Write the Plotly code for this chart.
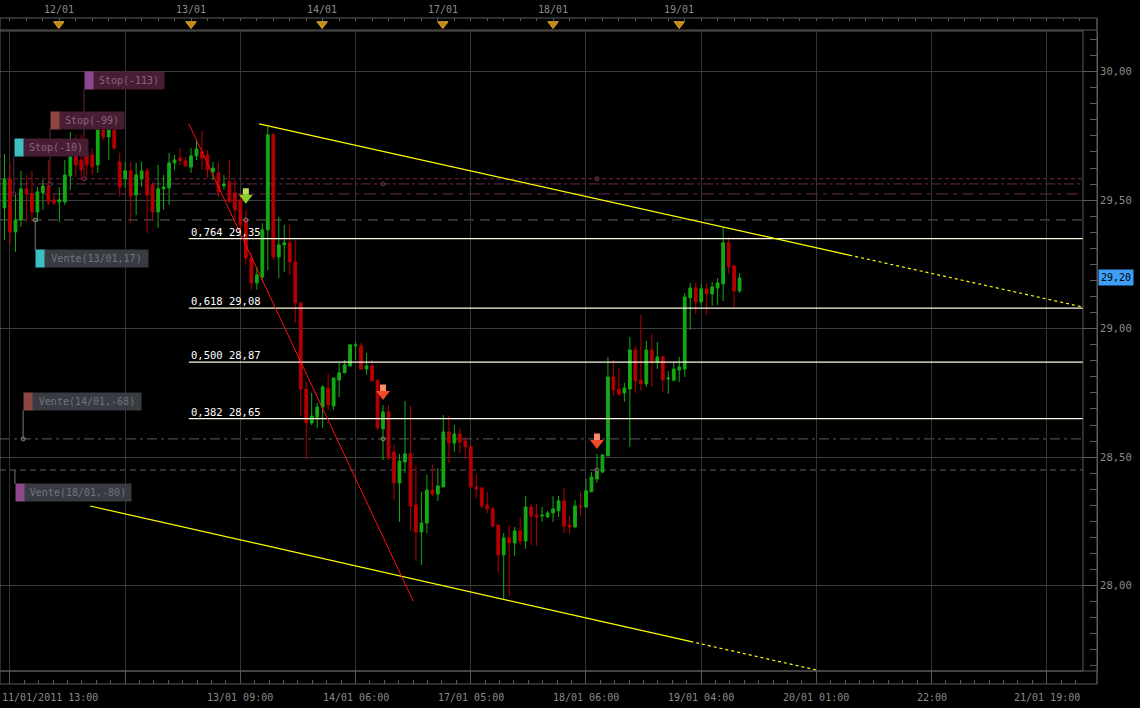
import plotly.graph_objects as go

# hourly bars, index 0 = 11/01/2011 13:00, one grid step = 21 bars
bar_idx = list(range(-1, 134))
opens = [29.470, 29.583, 29.376, 29.423, 29.544, 29.524, 29.454, 29.528, 29.555, 29.501,
         29.493, 29.493, 29.594, 29.695, 29.656, 29.676, 29.676, 29.637, 29.773, 29.746,
         29.773, 29.649, 29.583, 29.614, 29.520, 29.583, 29.614, 29.559, 29.454, 29.544,
         29.548, 29.645, 29.664, 29.653, 29.629, 29.672, 29.688, 29.676, 29.610, 29.606,
         29.555, 29.571, 29.528, 29.501, 29.423, 29.275, 29.178, 29.201, 29.384, 29.754,
         29.279, 29.326, 29.334, 29.260, 29.100, 28.765, 28.633, 28.656, 28.695, 28.769,
         28.699, 28.800, 28.828, 28.855, 28.933, 28.933, 28.843, 28.855, 28.800, 28.610,
         28.676, 28.520, 28.400, 28.481, 28.513, 28.314, 28.209, 28.244, 28.372, 28.357,
         28.384, 28.598, 28.555, 28.590, 28.563, 28.540, 28.384, 28.380, 28.314, 28.299,
         28.236, 28.120, 28.186, 28.166, 28.213, 28.174, 28.306, 28.275, 28.271, 28.267,
         28.283, 28.291, 28.330, 28.236, 28.228, 28.310, 28.306, 28.365, 28.415, 28.442,
         28.505, 28.812, 28.765, 28.750, 28.765, 28.917, 28.800, 28.785, 28.917, 28.870,
         28.890, 28.804, 28.800, 28.839, 28.843, 29.120, 29.158, 29.104, 29.155, 29.135,
         29.158, 29.174, 29.334, 29.244, 29.147]
highs = [29.680, 29.645, 29.528, 29.614, 29.598, 29.614, 29.551, 29.579, 29.656, 29.520,
         29.551, 29.656, 29.766, 29.754, 29.754, 29.684, 29.703, 29.773, 29.773, 29.773,
         29.773, 29.684, 29.649, 29.649, 29.645, 29.649, 29.625, 29.571, 29.637, 29.598,
         29.684, 29.676, 29.703, 29.668, 29.703, 29.734, 29.769, 29.695, 29.649, 29.645,
         29.598, 29.656, 29.579, 29.528, 29.462, 29.295, 29.240, 29.411, 29.785, 29.762,
         29.435, 29.404, 29.404, 29.345, 29.104, 28.793, 28.750, 28.711, 28.781, 28.824,
         28.808, 28.867, 28.878, 28.941, 28.948, 28.944, 28.905, 28.878, 28.800, 28.703,
         28.703, 28.548, 28.513, 28.719, 28.699, 28.466, 28.365, 28.431, 28.470, 28.458,
         28.664, 28.660, 28.625, 28.614, 28.579, 28.548, 28.435, 28.384, 28.365, 28.306,
         28.236, 28.205, 28.236, 28.228, 28.267, 28.349, 28.318, 28.318, 28.306, 28.291,
         28.349, 28.349, 28.380, 28.271, 28.334, 28.365, 28.415, 28.442, 28.513, 28.509,
         28.890, 28.878, 28.847, 28.789, 28.968, 28.933, 29.053, 28.952, 28.979, 28.948,
         28.894, 28.835, 28.870, 28.890, 29.139, 29.178, 29.178, 29.174, 29.174, 29.182,
         29.197, 29.396, 29.357, 29.248, 29.217]
lows = [29.345, 29.326, 29.299, 29.396, 29.415, 29.415, 29.415, 29.462, 29.481, 29.481,
        29.415, 29.481, 29.540, 29.590, 29.579, 29.590, 29.598, 29.606, 29.734, 29.656,
        29.695, 29.513, 29.548, 29.411, 29.442, 29.551, 29.372, 29.423, 29.392, 29.462,
        29.481, 29.618, 29.637, 29.629, 29.606, 29.656, 29.618, 29.586, 29.579, 29.513,
        29.540, 29.493, 29.423, 29.376, 29.248, 29.151, 29.151, 29.182, 29.228, 29.267,
        29.197, 29.221, 29.209, 29.022, 28.660, 28.493, 28.625, 28.614, 28.614, 28.684,
        28.684, 28.734, 28.828, 28.851, 28.878, 28.839, 28.820, 28.793, 28.606, 28.489,
        28.489, 28.330, 28.248, 28.439, 28.213, 28.096, 28.081, 28.205, 28.349, 28.330,
        28.384, 28.478, 28.520, 28.516, 28.493, 28.380, 28.341, 28.302, 28.283, 28.228,
        28.050, 27.944, 27.960, 28.116, 28.158, 28.143, 28.158, 28.155, 28.248, 28.267,
        28.248, 28.267, 28.205, 28.201, 28.225, 28.271, 28.302, 28.365, 28.400, 28.439,
        28.505, 28.738, 28.738, 28.715, 28.540, 28.750, 28.758, 28.773, 28.773, 28.843,
        28.754, 28.746, 28.793, 28.793, 28.812, 28.995, 29.057, 29.088, 29.053, 29.088,
        29.092, 29.108, 29.213, 29.085, 29.139]
closes = [29.583, 29.376, 29.423, 29.544, 29.524, 29.454, 29.532, 29.555, 29.493, 29.489,
          29.501, 29.598, 29.668, 29.637, 29.618, 29.637, 29.629, 29.773, 29.746, 29.773,
          29.703, 29.551, 29.614, 29.516, 29.598, 29.614, 29.520, 29.454, 29.544, 29.551,
          29.645, 29.656, 29.653, 29.633, 29.672, 29.699, 29.664, 29.618, 29.625, 29.532,
          29.563, 29.493, 29.462, 29.404, 29.275, 29.178, 29.209, 29.384, 29.754, 29.279,
          29.326, 29.334, 29.260, 29.100, 28.765, 28.633, 28.660, 28.695, 28.773, 28.703,
          28.808, 28.828, 28.859, 28.937, 28.937, 28.843, 28.855, 28.797, 28.614, 28.676,
          28.497, 28.400, 28.485, 28.513, 28.310, 28.209, 28.244, 28.372, 28.357, 28.388,
          28.598, 28.555, 28.590, 28.559, 28.540, 28.384, 28.376, 28.310, 28.299, 28.232,
          28.120, 28.186, 28.166, 28.213, 28.174, 28.306, 28.271, 28.267, 28.275, 28.283,
          28.299, 28.330, 28.232, 28.228, 28.310, 28.306, 28.369, 28.423, 28.442, 28.509,
          28.812, 28.762, 28.746, 28.769, 28.917, 28.797, 28.785, 28.917, 28.870, 28.890,
          28.800, 28.808, 28.843, 28.851, 29.123, 29.158, 29.104, 29.155, 29.135, 29.162,
          29.178, 29.334, 29.240, 29.147, 29.197]

bottom_idx = [0, 42, 63, 84, 105, 126, 147, 168, 189]
bottom_text = ["11/01/2011 13:00", "13/01 09:00", "14/01 06:00", "17/01 05:00", "18/01 06:00",
               "19/01 04:00", "20/01 01:00", "22:00", "21/01 19:00"]
day_idx = [8.9, 33.0, 56.9, 78.9, 99.0, 122.0]
day_text = ["12/01", "13/01", "14/01", "17/01", "18/01", "19/01"]

fib_ratio = ["0,764", "0,618", "0,500", "0,382"]
fib_level = [29.35, 29.08, 28.87, 28.65]
fib_start = 32.6

upper_idx = [45.4, 153.0, 195.6]
upper_px = [29.797, 29.286, 29.084]
lower_idx = [14.6, 124.0, 147.0]
lower_px = [28.310, 27.783, 27.672]
red_idx = [32.6, 73.5]
red_px = [29.797, 27.940]

order_text = ["Stop(-113)", "Stop(-99)", "Stop(-10)", "Vente(13/01,17)", "Vente(14/01,-68)", "Vente(18/01,-80)"]
order_level = [29.583, 29.563, 29.524, 29.423, 28.571, 28.450]
order_idx = [13.5, 7.3, 0.7, 4.6, 2.4, 0.9]
order_label_px = [29.966, 29.810, 29.703, 29.271, 28.715, 28.363]

# signal arrows: bar index and price at the arrow head centre
signal_idx = [43, 68, 107]
signal_px = [29.509, 28.746, 28.555]
entry_idx = [43, 68, 68, 107, 107]
entry_px = [29.423, 28.571, 29.563, 28.450, 29.583]

last_price = 29.20

X_RANGE = [-1.82, 195.6]
Y_RANGE = [27.668, 30.158]

# styling
FONT = "DejaVu Sans Mono"
GREEN = "#14aa14"
RED = "#b40000"
FRAME = "#5a5a5a"
XD = [0, 1083 / 1097]
Y3D = [0, 13 / 666]
YD = [13 / 666, 653 / 666]
Y2D = [654 / 666, 1]
order_sq = ["#8e468e", "#8c4641", "#3cbec3", "#3cbec3", "#8c4641", "#8e468e"]
order_box_w = [70, 64, 64, 103, 108, 106]
line_color = ["#6e2a50", "#6e2a50", "#6e2a50", "#5e5e5e", "#5e5e5e", "#5e5e5e"]
line_dash = ["4px,3px", "10px,3px,3px,3px", "12px,5px,4px,5px", "10px,6px", "10px,4px,3px,4px", "6px,4px"]
signal_color = ["#8fd02a", "#f04a28", "#f04a28"]
signal_shaft = ["#b4e05a", "#ff8a6a", "#ff8a6a"]

fig = go.Figure()

# wicks
up_x, up_y, dn_x, dn_y = [], [], [], []
for i, o, h, l, c in zip(bar_idx, opens, highs, lows, closes):
    if c >= o:
        up_x += [i, i, None]
        up_y += [l, h, None]
    else:
        dn_x += [i, i, None]
        dn_y += [l, h, None]
fig.add_trace(go.Scatter(x=up_x, y=up_y, mode="lines", line=dict(color=GREEN, width=1), hoverinfo="skip"))
fig.add_trace(go.Scatter(x=dn_x, y=dn_y, mode="lines", line=dict(color=RED, width=1), hoverinfo="skip"))

# bodies
body_col = [GREEN if c >= o else RED for o, c in zip(opens, closes)]
fig.add_trace(go.Bar(
    x=bar_idx,
    y=[abs(c - o) for o, c in zip(opens, closes)],
    base=[min(o, c) for o, c in zip(opens, closes)],
    width=0.5,
    marker=dict(color=body_col, line=dict(color=body_col, width=1)),
    hoverinfo="skip",
))

# order lines
for lvl, col, dsh in zip(order_level, line_color, line_dash):
    fig.add_shape(type="line", xref="x domain", yref="y", x0=0, x1=1, y0=lvl, y1=lvl,
                  line=dict(color=col, width=1, dash=dsh), layer="below")

# fibonacci levels
for r, lvl in zip(fib_ratio, fib_level):
    fig.add_trace(go.Scatter(x=[fib_start, X_RANGE[1]], y=[lvl, lvl], mode="lines",
                             line=dict(color="#fffbe6", width=1.2), hoverinfo="skip"))
    fig.add_annotation(x=fib_start, y=lvl, xref="x", yref="y", xanchor="left", yanchor="bottom",
                       text=r + " " + f"{lvl:.2f}".replace(".", ","), showarrow=False, yshift=-1,
                       font=dict(family=FONT, size=10.5, color="white"))

# trend lines
fig.add_trace(go.Scatter(x=upper_idx[:2], y=upper_px[:2], mode="lines", line=dict(color="#ffff00", width=1.2)))
fig.add_trace(go.Scatter(x=upper_idx[1:], y=upper_px[1:], mode="lines", line=dict(color="#ffff00", width=1.2, dash="3px,3px")))
fig.add_trace(go.Scatter(x=lower_idx[:2], y=lower_px[:2], mode="lines", line=dict(color="#ffff00", width=1.2)))
fig.add_trace(go.Scatter(x=lower_idx[1:], y=lower_px[1:], mode="lines", line=dict(color="#ffff00", width=1.2, dash="3px,3px")))
fig.add_trace(go.Scatter(x=red_idx, y=red_px, mode="lines", line=dict(color="#ff1010", width=1)))

# order labels
for txt, lvl, ix, lp, sq, w in zip(order_text, order_level, order_idx, order_label_px, order_sq, order_box_w):
    stop = txt.startswith("Stop")
    edge = lp + 0.033 if lvl > lp else lp - 0.033
    fig.add_shape(type="line", xref="x", yref="y", x0=ix, x1=ix, y0=lvl, y1=edge,
                  line=dict(color="#5a2a40" if stop else "#777777", width=1))
    fig.add_annotation(x=ix, y=lp, xref="x", yref="y", xanchor="left", yanchor="middle", text=" ",
                       showarrow=False, width=9, height=17, bgcolor=sq, borderpad=0)
    fig.add_annotation(x=ix, y=lp, xref="x", yref="y", xanchor="left", yanchor="middle", xshift=9,
                       text=txt, showarrow=False, width=w, height=17, align="center", borderpad=0,
                       bgcolor="#461d33" if stop else "#393b43",
                       font=dict(family=FONT, size=10, color="#8c647d" if stop else "#70747c"))

# small order marks
fig.add_trace(go.Scatter(x=order_idx[:5] + entry_idx, y=order_level[:5] + entry_px, mode="markers",
                         marker=dict(symbol="circle-open", size=4,
                                     color=["#7a3050"] * 3 + ["#888888"] * 2 + ["#888888", "#888888", "#7a3050", "#888888", "#7a3050"],
                                     line=dict(width=1))))

# signal arrows: shaft drawn as an annotation line, head as a triangle marker
for ix, p, col in zip(signal_idx, signal_px, signal_shaft):
    fig.add_annotation(x=ix, y=p, xref="x", yref="y", text="", showarrow=True, arrowhead=0,
                       arrowwidth=6, arrowcolor=col, ax=0, ay=-11, standoff=3)
fig.add_trace(go.Scatter(x=signal_idx, y=signal_px, mode="markers",
                         marker=dict(symbol="triangle-down", size=12, color=signal_color, line=dict(width=0))))

# top band markers
fig.add_trace(go.Scatter(x=day_idx, y=[0.5] * len(day_idx), xaxis="x2", yaxis="y2", mode="markers",
                         marker=dict(symbol="triangle-down", size=9, color="#c08a14", line=dict(color="#e0a830", width=1))))
fig.add_trace(go.Scatter(x=[None], y=[None], xaxis="x3", yaxis="y3"))

for ix, t in zip(day_idx, day_text):
    fig.add_annotation(x=ix, y=1, xref="x", yref="paper", yanchor="bottom", yshift=1, text=t,
                       showarrow=False, font=dict(family=FONT, size=10, color="#8a8a8a"))
for ix, t in zip(bottom_idx, bottom_text):
    first = ix == bottom_idx[0]
    fig.add_annotation(x=X_RANGE[0] if first else ix, y=0, xref="x", yref="paper",
                       xanchor="left" if first else "center", yanchor="top", yshift=-6, text=t,
                       showarrow=False, font=dict(family=FONT, size=10, color="#8a8a8a"))

fig.add_annotation(x=1, y=last_price, xref="paper", yref="y", xanchor="left", xshift=1,
                   text=f"{last_price:.2f}".replace(".", ","), showarrow=False, bgcolor="#3d9ff5",
                   width=34, height=15, borderpad=0, font=dict(family=FONT, size=10, color="black"))

# frames
fig.add_shape(type="rect", xref="paper", yref="paper", x0=0, x1=1, y0=Y2D[0], y1=1, line=dict(color=FRAME, width=1))
fig.add_shape(type="rect", xref="paper", yref="paper", x0=0, x1=1, y0=0, y1=Y3D[1], line=dict(color=FRAME, width=1))
fig.add_shape(type="rect", xref="paper", yref="paper", x0=0, x1=XD[1], y0=YD[0], y1=YD[1], line=dict(color=FRAME, width=1))
fig.add_shape(type="line", xref="paper", yref="paper", x0=1, x1=1, y0=0, y1=1, line=dict(color=FRAME, width=1))

fig.update_layout(
    width=1140, height=708,
    margin=dict(l=0, r=43, t=18, b=24),
    paper_bgcolor="black", plot_bgcolor="black",
    barmode="overlay", showlegend=False, hovermode=False,
    separators=",.",
    font=dict(family=FONT, size=10, color="#8a8a8a"),
    xaxis=dict(domain=XD, range=X_RANGE, anchor="y", tick0=0, dtick=21, showgrid=True,
               gridcolor="#333333", ticks="", showticklabels=False, zeroline=False, showline=False),
    yaxis=dict(domain=YD, range=Y_RANGE, anchor="free", position=1, side="right",
               tick0=0, dtick=0.5, tickformat=".2f", ticks="inside", ticklen=14, tickcolor=FRAME,
               showline=True, linecolor=FRAME, showgrid=True, gridcolor="#3d3d3d", zeroline=False,
               minor=dict(dtick=0.0625, ticks="inside", ticklen=7, tickcolor=FRAME, showgrid=False),
               tickfont=dict(family=FONT, size=10.5, color="#8a8a8a")),
    xaxis2=dict(domain=XD, matches="x", anchor="y2", side="top", tick0=0, dtick=3, ticks="inside",
                ticklen=3, tickcolor=FRAME, showticklabels=False, showgrid=False, zeroline=False),
    yaxis2=dict(domain=Y2D, range=[0, 1], anchor="x2", visible=False),
    xaxis3=dict(domain=XD, matches="x", anchor="y3", tick0=0, dtick=21, showgrid=True,
                gridcolor="#555555", ticks="", showticklabels=False, zeroline=False,
                minor=dict(tick0=0, dtick=2.625, ticks="inside", ticklen=4, tickcolor=FRAME, showgrid=False)),
    yaxis3=dict(domain=Y3D, range=[0, 1], anchor="x3", visible=False),
)

# page body has a default 8px margin; remove it so the figure sits at the corner
fig.write_html("out.html", config={"displayModeBar": False},
               post_script="document.body.style.margin='0';")
